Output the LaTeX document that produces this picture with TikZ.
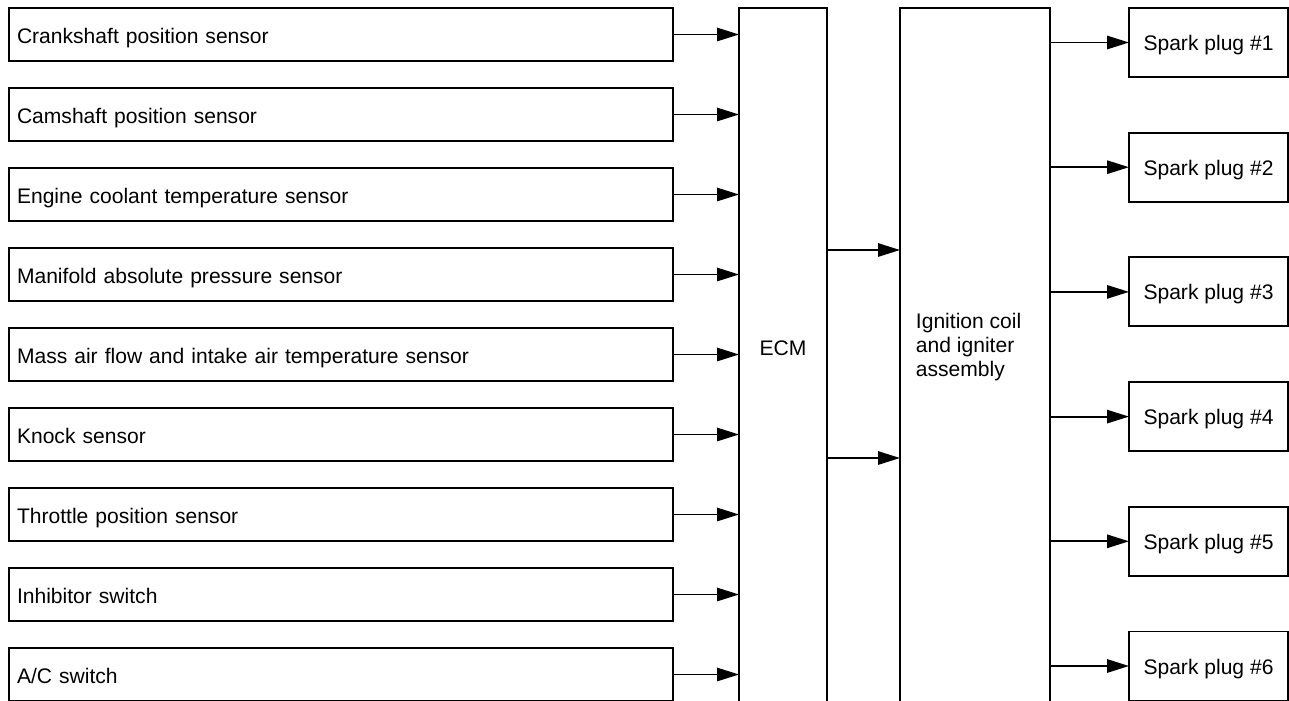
\documentclass[tikz,border=0pt]{standalone}
\usepackage{fontspec}
\setmainfont{Liberation Sans}
\usetikzlibrary{positioning,calc,arrows.meta}

\begin{document}
\begin{tikzpicture}[->,>={Triangle[length=16.5pt,width=10pt]},x=0.75pt,y=-0.75pt,
                line width=1.4pt, font=\fontsize{15.8}{18}\selectfont,
                sensor/.style={draw,rectangle,anchor=north west,outer sep=0pt,
                    text width=486pt,align=left,inner sep=6pt,minimum height=39.75pt,
                    text height=13pt,text depth=0pt},
                unit/.style={draw,rectangle,anchor=north,outer sep=0pt,minimum height=534pt},
                plug/.style={draw,rectangle,outer sep=0pt,minimum width=119.25pt,minimum height=51.75pt,
                    text height=12pt,text depth=0pt}]

\useasboundingbox (0,0) rectangle (1289,700);
\clip (0,0) rectangle (1289,700);

% sensors and switches
\node[sensor] (s1) at (9,8)   {Crankshaft position sensor};
\node[sensor] (s2) at (9,88)  {Camshaft position sensor};
\node[sensor] (s3) at (9,168) {Engine coolant temperature sensor};
\node[sensor] (s4) at (9,248) {Manifold absolute pressure sensor};
\node[sensor] (s5) at (9,328) {Mass air flow and intake air temperature sensor};
\node[sensor] (s6) at (9,408) {Knock sensor};
\node[sensor] (s7) at (9,488) {Throttle position sensor};
\node[sensor] (s8) at (9,568) {Inhibitor switch};
\node[sensor] (s9) at (9,648) {A/C switch};

% control unit and ignition
\node[unit, minimum width=66pt]    (ecm) at (783,8) {};
\node[unit, minimum width=112.5pt] (ign) at (975,8) {};
\node (ecmtext) at (783,348) {ECM};
\node[anchor=west,align=left,inner sep=0pt] (igntext) at (915,347)
    {Ignition coil\\and igniter\\assembly};

% spark plugs
\node[plug] (p1) at (1208.5,42.5)  {Spark plug \#1};
\node[plug] (p2) at (1208.5,167.2) {Spark plug \#2};
\node[plug] (p3) at (1208.5,291.9) {Spark plug \#3};
\node[plug] (p4) at (1208.5,416.6) {Spark plug \#4};
\node[plug] (p5) at (1208.5,541.3) {Spark plug \#5};
\node[plug] (p6) at (1208.5,666.0) {Spark plug \#6};

\draw (s1.east) -- (s1.east -| ecm.west);
\draw (s2.east) -- (s2.east -| ecm.west);
\draw (s3.east) -- (s3.east -| ecm.west);
\draw (s4.east) -- (s4.east -| ecm.west);
\draw (s5.east) -- (s5.east -| ecm.west);
\draw (s6.east) -- (s6.east -| ecm.west);
\draw (s7.east) -- (s7.east -| ecm.west);
\draw (s8.east) -- (s8.east -| ecm.west);
\draw (s9.east) -- (s9.east -| ecm.west);

\coordinate (e1) at (827,250);
\coordinate (e2) at (827,458);
\draw (e1) -- (e1 -| ign.west);
\draw (e2) -- (e2 -| ign.west);

\draw (ign.east |- p1.west) -- (p1.west);
\draw (ign.east |- p2.west) -- (p2.west);
\draw (ign.east |- p3.west) -- (p3.west);
\draw (ign.east |- p4.west) -- (p4.west);
\draw (ign.east |- p5.west) -- (p5.west);
\draw (ign.east |- p6.west) -- (p6.west);
\end{tikzpicture}
\end{document}
